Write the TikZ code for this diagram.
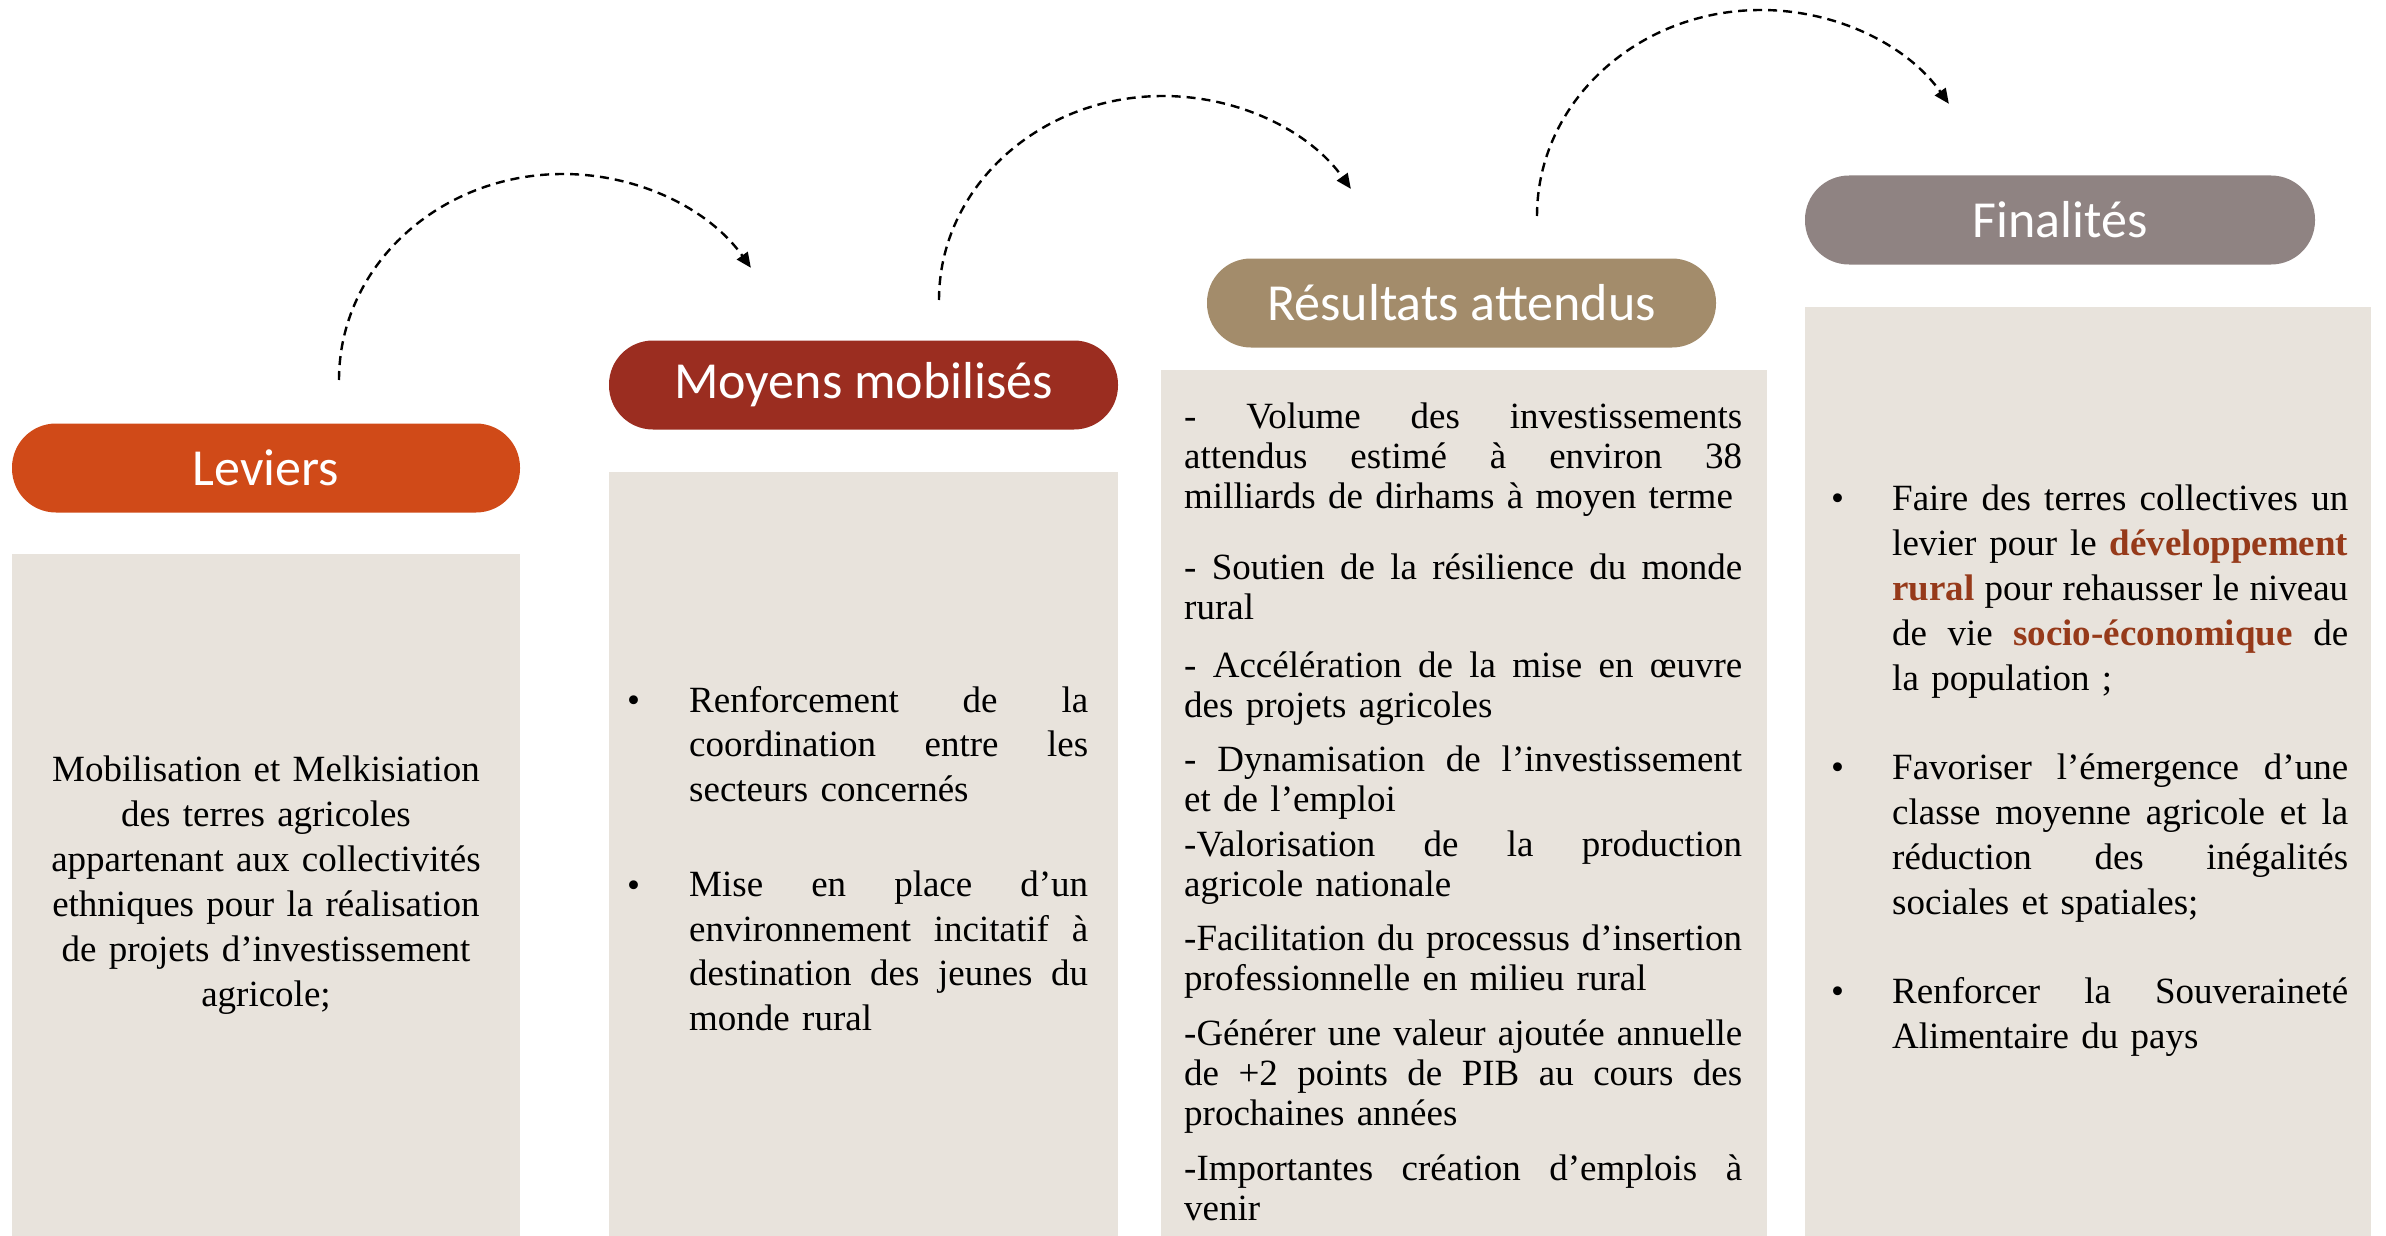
\documentclass[tikz,border=0pt]{standalone}
\usepackage{fontspec}
\setmainfont{Liberation Serif}
\newfontfamily\pillfont{Carlito}
\usetikzlibrary{arrows.meta}
\definecolor{levc}{HTML}{D04A18}
\definecolor{moyc}{HTML}{9B2D20}
\definecolor{resc}{HTML}{A38C6B}
\definecolor{finc}{HTML}{8F8382}
\definecolor{boxc}{HTML}{E8E3DC}
\definecolor{hlc}{HTML}{963A1A}
\newcommand{\jw}{400pt}
\newcommand{\J}[1]{\leavevmode\hbox to \jw{#1}}
\newcommand{\hf}{\hskip\fontdimen2\font plus 1fil minus \fontdimen4\font\relax}
\newcommand{\hlw}[1]{\textbf{\textcolor{hlc}{#1}}}
\begin{document}
\begin{tikzpicture}[x=1pt,y=-1pt,
  pill/.style={rounded corners=44pt, minimum height=89pt, inner sep=0pt, text=white,
    font=\pillfont\fontsize{52}{60}\selectfont},
  panel/.style={fill=boxc, inner sep=0pt, anchor=north west, minimum width=#1},
  body/.style={inner sep=0pt, text=black},
  bul/.style={inner sep=0pt, anchor=base west, font=\fontsize{37}{40}\selectfont},
  conn/.style={line width=2.4pt, dash pattern=on 9pt off 6pt, -{Triangle[length=15pt,width=13pt]}}
]
\useasboundingbox (0,0) rectangle (2386,1236);
\fill[white] (0,0) rectangle (2386,1236);

% panels
\node[panel=508pt, minimum height=682pt] (levbox) at (12,554) {};
\node[panel=509pt, minimum height=764pt] (moybox) at (609,472) {};
\node[panel=606pt, minimum height=866pt] (resbox) at (1161,370) {};
\node[panel=566pt, minimum height=929pt] (finbox) at (1805,307) {};

% pills
\node[pill, fill=levc, minimum width=508pt] (lev) at (266,468) {Leviers};
\node[pill, fill=moyc, minimum width=509pt] (moy) at (863.5,385) {Moyens mobilisés};
\node[pill, fill=resc, minimum width=509pt] (res) at (1461.5,303) {Résultats attendus};
\node[pill, fill=finc, minimum width=510pt] (fin) at (2060,220) {Finalités};

% arrows
\coordinate (a1s) at (339,380);
\coordinate (a2s) at (939,300);
\coordinate (a3s) at (1537,216);
\draw[conn] (a1s) arc[start angle=180, end angle=327, x radius=224, y radius=206];
\draw[conn] (a2s) arc[start angle=180, end angle=327, x radius=224, y radius=204];
\draw[conn] (a3s) arc[start angle=180, end angle=327, x radius=224, y radius=206];

% Leviers text
\node[body, anchor=base, text width=500pt, align=center, font=\fontsize{37}{45}\selectfont] (levtxt) at (266,781)
 {Mobilisation et Melkisiation\\ des terres agricoles\\ appartenant aux collectivités\\ ethniques pour la réalisation\\ de projets d’investissement\\ agricole;};

% Moyens text
\node[bul] (mb1) at (627,712) {•};
\node[bul] (mb2) at (627,897) {•};
\node[body, anchor=base west, text width=399pt, align=left,
      font=\fontsize{37}{44.5}\selectfont\renewcommand{\jw}{399pt}] (moytxt) at (689,712)
 {\J{Renforcement\hf de\hf la}\\
  \J{coordination\hf entre\hf les}\\
  secteurs concernés\\[51pt]
  \J{Mise\hf en\hf place\hf d’un}\\
  \J{environnement\hf incitatif\hf à}\\
  \J{destination\hf des\hf jeunes\hf du}\\
  monde rural};

% Resultats text
\node[body, anchor=base west, text width=558pt, align=left,
      font=\fontsize{37}{40}\selectfont\renewcommand{\jw}{558pt}] (restxt) at (1184,428)
 {\J{-\hf Volume\hf des\hf investissements}\\
  \J{attendus\hf estimé\hf à\hf environ\hf 38}\\
  milliards de dirhams à moyen terme\\[31pt]
  \J{-\hf Soutien\hf de\hf la\hf résilience\hf du\hf monde}\\
  rural\\[18pt]
  \J{-\hf Accélération\hf de\hf la\hf mise\hf en\hf œuvre}\\
  des projets agricoles\\[14pt]
  \J{-\hf Dynamisation\hf de\hf l’investissement}\\
  et de l’emploi\\[5pt]
  \J{-Valorisation\hf de\hf la\hf production}\\
  agricole nationale\\[14pt]
  \J{-Facilitation\hf du\hf processus\hf d’insertion}\\
  professionnelle en milieu rural\\[15pt]
  \J{-Générer\hf une\hf valeur\hf ajoutée\hf annuelle}\\
  \J{de\hf +2\hf points\hf de\hf PIB\hf au\hf cours\hf des}\\
  prochaines années\\[15pt]
  \J{-Importantes\hf création\hf d’emplois\hf à}\\
  venir};

% Finalites text
\node[bul] (fb1) at (1831,510) {•};
\node[bul] (fb2) at (1831,779) {•};
\node[bul] (fb3) at (1831,1003) {•};
\node[body, anchor=base west, text width=456pt, align=left,
      font=\fontsize{37}{45}\selectfont\renewcommand{\jw}{456pt}] (fintxt) at (1892,510)
 {\J{Faire\hf des\hf terres\hf collectives\hf un}\\
  \J{levier\hf pour\hf le\hf \hlw{développement}}\\
  \J{\hlw{rural}\hf pour\hf rehausser\hf le\hf niveau}\\
  \J{de\hf vie\hf \hlw{socio-économique}\hf de}\\
  la population ;\\[44pt]
  \J{Favoriser\hf l’émergence\hf d’une}\\
  \J{classe\hf moyenne\hf agricole\hf et\hf la}\\
  \J{réduction\hf des\hf inégalités}\\
  sociales et spatiales;\\[44pt]
  \J{Renforcer\hf la\hf Souveraineté}\\
  Alimentaire du pays};
\end{tikzpicture}
\end{document}
